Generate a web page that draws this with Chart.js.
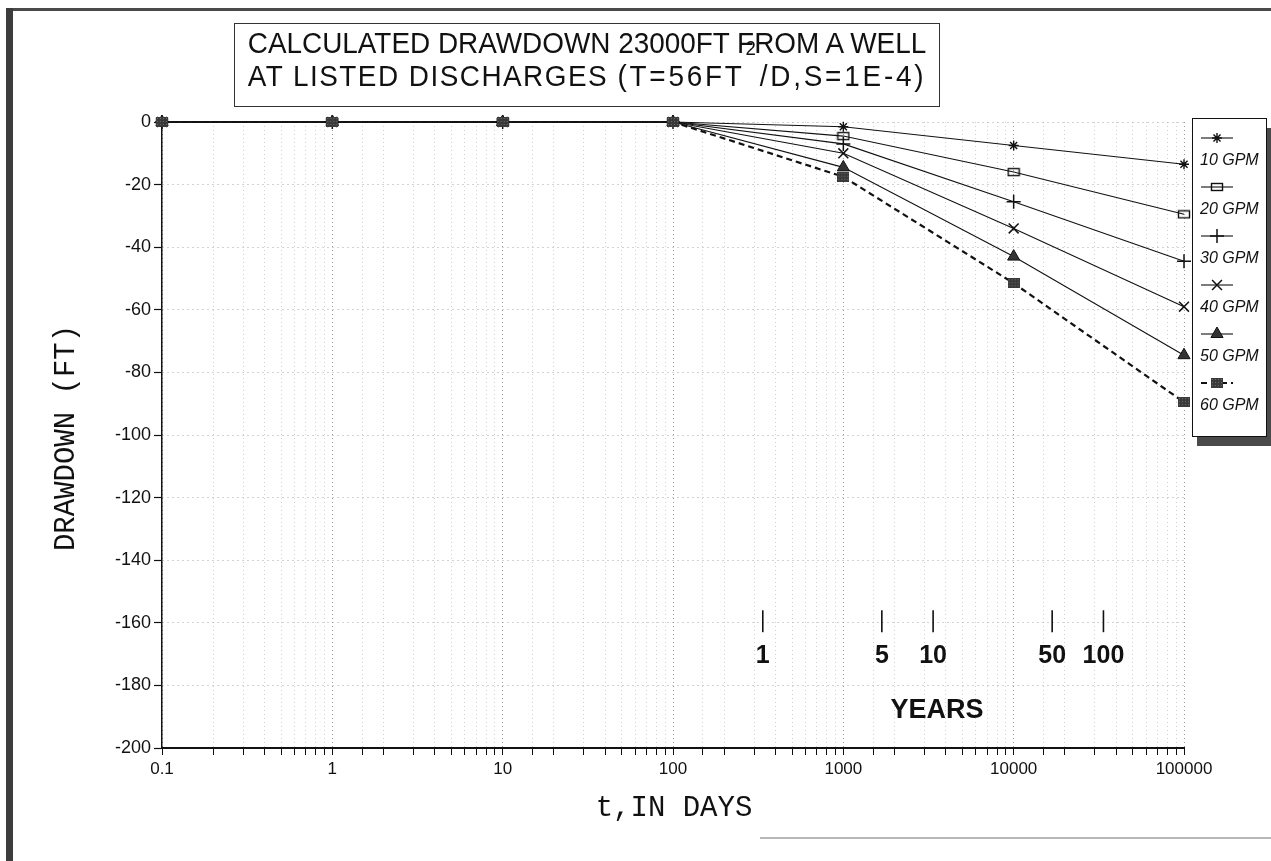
<!DOCTYPE html>
<html>
<head>
<meta charset="utf-8">
<title>Calculated drawdown</title>
<script src="https://cdn.jsdelivr.net/npm/chart.js@4.4.1/dist/chart.umd.min.js"></script>
<style>
  html, body { margin: 0; padding: 0; background: #fff; }
  #wrap { position: relative; width: 1271px; height: 861px; overflow: hidden; }
  #plot { position: absolute; left: 0; top: 0; }
  .frame-top { position: absolute; left: 6px; top: 8px; width: 1265px; height: 3px; background: #4a4a4a; }
  .frame-left { position: absolute; left: 6px; top: 8px; width: 7px; height: 853px; background: #3c3c3c; }
  .frame-bottom { position: absolute; left: 760px; top: 837px; width: 511px; height: 2px; background: #b8b8b8; }
  #title {
    position: absolute; left: 234px; top: 23px; width: 706px; height: 84px;
    box-sizing: border-box; border: 1px solid #333; padding-top: 2px;
    font-family: "Liberation Sans", Arial, sans-serif; font-size: 30px; line-height: 33px;
    color: #111;
  }
  #title div {
    position: relative; left: 50%; width: max-content; white-space: nowrap;
    transform: translateX(-50%) scaleX(0.93);
  }
  #title .l2 { letter-spacing: 1.6px; }
  #title .l2 .par { letter-spacing: 3px; }
  .sup { position: relative; top: -31px; font-size: 20px; margin: 0 1px; }
</style>
</head>
<body>
<div id="wrap">
  <canvas id="plot" width="1271" height="861"></canvas>
  <div class="frame-top"></div>
  <div class="frame-left"></div>
  <div class="frame-bottom"></div>
  <div id="title">
    <div>CALCULATED DRAWDOWN 23000FT FROM A WELL</div>
    <div class="l2">AT LISTED DISCHARGES <span class="par">(T=56FT<span class="sup">2</span>/D,S=1E-4)</span></div>
  </div>
</div>
<script>
document.addEventListener("DOMContentLoaded", () => {
  // elapsed time, days
  const days = [0.1, 1, 10, 100, 1000, 10000, 100000];

  // drawdown in feet for each pumping rate
  const gpm10 = [0, 0, 0, 0, -1.5, -7.5, -13.5];
  const gpm20 = [0, 0, 0, 0, -4.5, -16, -29.5];
  const gpm30 = [0, 0, 0, 0, -7, -25.5, -44.5];
  const gpm40 = [0, 0, 0, 0, -10, -34, -59];
  const gpm50 = [0, 0, 0, 0, -14.5, -43, -74.5];
  const gpm60 = [0, 0, 0, 0, -17.5, -51.5, -89.5];

  const seriesNames = ["10 GPM", "20 GPM", "30 GPM", "40 GPM", "50 GPM", "60 GPM"];
  const seriesValues = [gpm10, gpm20, gpm30, gpm40, gpm50, gpm60];

  const xTickLabels = [0.1, 1, 10, 100, 1000, 10000, 100000];
  const yearMarks = [1, 5, 10, 50, 100];

  const FONT = '"Liberation Sans", Arial, sans-serif';
  const MONO = '"Liberation Mono", "DejaVu Sans Mono", monospace';

  function makeMarker(w, h, paint) {
    const c = document.createElement("canvas");
    c.width = w;
    c.height = h;
    paint(c.getContext("2d"), w, h);
    return c;
  }

  // open box for 20 GPM, dark block for 60 GPM
  const openBox = makeMarker(14, 10, (g, w, h) => {
    g.strokeStyle = "#111";
    g.lineWidth = 1.4;
    g.strokeRect(1.5, 1.5, w - 3, h - 3);
  });
  const darkBox = makeMarker(12, 10, (g, w, h) => {
    g.fillStyle = "#3a3a3a";
    g.fillRect(0, 0, w, h);
    g.fillStyle = "#6a6a6a";
    for (let i = 1; i < w; i += 3) for (let j = 1; j < h; j += 3) g.fillRect(i, j, 1, 1);
  });

  const styles = [
    { pointStyle: "star", radius: 5, fill: "#111", borderWidth: 1.4 },
    { pointStyle: openBox, radius: 6, fill: "#111", borderWidth: 1 },
    { pointStyle: "cross", radius: 7, fill: "#111", borderWidth: 1.5 },
    { pointStyle: "crossRot", radius: 7, fill: "#111", borderWidth: 1.5 },
    { pointStyle: "triangle", radius: 7, fill: "#333", borderWidth: 1 },
    { pointStyle: darkBox, radius: 6, fill: "#333", borderWidth: 1 }
  ];

  const datasets = seriesNames.map((name, k) => ({
    label: name,
    data: days.map((d, i) => ({ x: d, y: seriesValues[k][i] })),
    borderColor: "#111",
    backgroundColor: styles[k].fill,
    borderWidth: k === 5 ? 2.2 : 1.1,
    borderDash: k === 5 ? [6, 4] : [],
    pointStyle: styles[k].pointStyle,
    pointRadius: styles[k].radius,
    pointBorderWidth: styles[k].borderWidth,
    pointBorderColor: "#111",
    pointBackgroundColor: styles[k].fill,
    tension: 0,
    clip: false,
    order: 6 - k
  }));

  const isDecade = v => {
    const l = Math.log10(v);
    return Math.abs(l - Math.round(l)) < 1e-6;
  };

  // axis titles, year scale and the boxed key
  const extras = {
    id: "extras",
    afterDraw(chart) {
      const { ctx, scales: { x, y } } = chart;
      ctx.save();
      ctx.fillStyle = "#111";
      ctx.strokeStyle = "#111";

      ctx.font = "29px " + MONO;
      ctx.textAlign = "center";
      ctx.textBaseline = "middle";
      ctx.fillText("t,IN DAYS", 674, 808);
      ctx.save();
      ctx.translate(66, 438);
      ctx.rotate(-Math.PI / 2);
      ctx.fillText("DRAWDOWN (FT)", 0, 0);
      ctx.restore();

      // years along the time axis
      ctx.font = "bold 25px " + FONT;
      ctx.lineWidth = 1.6;
      yearMarks.forEach(yr => {
        const px = x.getPixelForValue(yr * 365) - 6;
        ctx.beginPath();
        ctx.moveTo(px, y.getPixelForValue(-156));
        ctx.lineTo(px, y.getPixelForValue(-163));
        ctx.stroke();
        ctx.fillText(String(yr), px, y.getPixelForValue(-170.5));
      });
      ctx.font = "bold 27px " + FONT;
      ctx.fillText("YEARS", 937, 711);

      // key box with shadow
      const bx = 1192, by = 118, bw = 74, bh = 318;
      ctx.fillStyle = "#4a4a4a";
      ctx.fillRect(bx + 5, by + 10, bw, bh);
      ctx.fillStyle = "#fff";
      ctx.fillRect(bx, by, bw, bh);
      ctx.lineWidth = 1;
      ctx.strokeRect(bx + 0.5, by + 0.5, bw, bh);

      ctx.textAlign = "left";
      ctx.textBaseline = "alphabetic";
      ctx.font = "italic 16px " + FONT;
      chart.data.datasets.forEach((ds, k) => {
        const sy = 138 + k * 49;
        ctx.save();
        ctx.strokeStyle = "#111";
        ctx.lineWidth = ds.borderWidth;
        ctx.setLineDash(ds.borderDash);
        ctx.beginPath();
        ctx.moveTo(1201, sy);
        ctx.lineTo(1233, sy);
        ctx.stroke();
        ctx.setLineDash([]);
        ctx.fillStyle = ds.pointBackgroundColor;
        ctx.strokeStyle = "#111";
        ctx.lineWidth = ds.pointBorderWidth;
        Chart.helpers.drawPoint(ctx, {
          pointStyle: ds.pointStyle, radius: ds.pointRadius,
          borderWidth: ds.pointBorderWidth, rotation: 0
        }, 1217, sy);
        ctx.restore();
        ctx.fillStyle = "#111";
        ctx.fillText(ds.label, 1200, 165 + k * 49);
      });
      ctx.restore();
    }
  };

  new Chart(document.getElementById("plot"), {
    type: "line",
    data: { datasets },
    plugins: [extras],
    options: {
      responsive: false,
      animation: false,
      layout: { padding: { left: 0, right: 87, top: 122, bottom: 0 } },
      plugins: {
        legend: { display: false },
        tooltip: { enabled: false },
        title: { display: false }
      },
      scales: {
        x: {
          type: "logarithmic",
          min: 0.1,
          max: 100000,
          afterFit: s => { s.height = 113; },
          ticks: {
            autoSkip: false,
            maxRotation: 0,
            padding: 4,
            color: "#111",
            font: { family: FONT, size: 17 },
            callback: v => {
              const hit = xTickLabels.find(t => Math.abs(t - v) / t < 1e-6);
              return hit === undefined ? "" : String(hit);
            }
          },
          grid: {
            color: c => (c.tick && isDecade(c.tick.value) ? "#9a9a9a" : "#cfcfcf"),
            lineWidth: 1,
            tickLength: 7,
            tickColor: "#111",
            tickWidth: 1,
            tickBorderDash: []
          },
          border: { display: true, color: "#111", width: 2, dash: [1, 3] }
        },
        y: {
          min: -200,
          max: 0,
          afterFit: s => { s.width = 162; },
          ticks: {
            stepSize: 20,
            padding: 3,
            color: "#111",
            font: { family: FONT, size: 18 }
          },
          grid: {
            color: "#a6a6a6",
            lineWidth: 1,
            tickLength: 8,
            tickColor: "#111",
            tickWidth: 1.2,
            tickBorderDash: []
          },
          border: { display: true, color: "#111", width: 1.5, dash: [1, 4] }
        }
      }
    }
  });
});
</script>
</body>
</html>
